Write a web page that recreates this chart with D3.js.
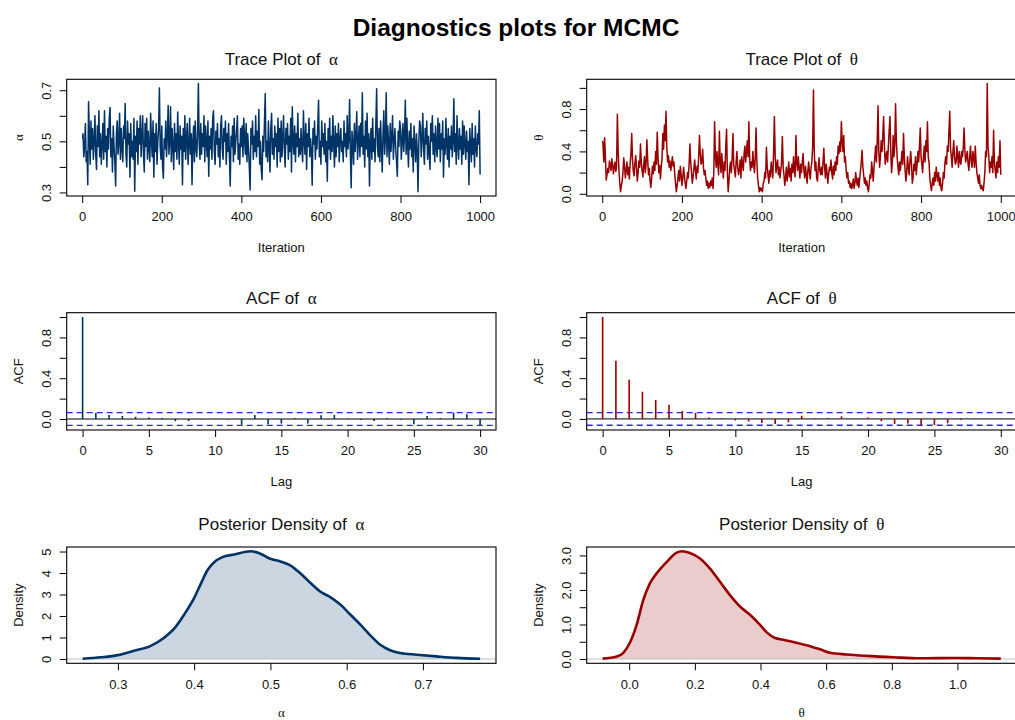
<!DOCTYPE html>
<html>
<head>
<meta charset="utf-8">
<script src="https://cdn.jsdelivr.net/npm/d3@7"></script>
<style>
  body { margin: 0; background: #fff; }
  svg { display: block; }
</style>
</head>
<body>
<svg id="chart" width="1015" height="720"></svg>
<script>
// ---- data ----
// trace samples, one every 2 iterations (0..1000), one row = 50 iterations
const alphaTrace = [
  0.51, 0.53, 0.44, 0.48, 0.57, 0.42, 0.46, 0.33, 0.655, 0.52, 0.41, 0.58, 0.47, 0.55, 0.43, 0.50, 0.60, 0.45, 0.39, 0.56, 0.48, 0.62, 0.44, 0.53, 0.41,
  0.49, 0.57, 0.43, 0.62, 0.46, 0.52, 0.40, 0.55, 0.47, 0.59, 0.633, 0.44, 0.51, 0.38, 0.56, 0.48, 0.42, 0.325, 0.53, 0.58, 0.45, 0.50, 0.61, 0.43, 0.55,
  0.47, 0.42, 0.56, 0.51, 0.648, 0.45, 0.40, 0.58, 0.49, 0.53, 0.36, 0.57, 0.44, 0.50, 0.43, 0.59, 0.305, 0.52, 0.46, 0.58, 0.41, 0.55, 0.49, 0.60, 0.44,
  0.52, 0.60, 0.45, 0.38, 0.57, 0.48, 0.59, 0.43, 0.54, 0.47, 0.42, 0.61, 0.50, 0.44, 0.58, 0.36, 0.53, 0.46, 0.57, 0.41, 0.50, 0.55, 0.709, 0.48, 0.43,
  0.56, 0.40, 0.356, 0.51, 0.47, 0.58, 0.44, 0.52, 0.64, 0.45, 0.50, 0.635, 0.42, 0.55, 0.48, 0.39, 0.57, 0.46, 0.53, 0.43, 0.615, 0.49, 0.41, 0.56, 0.47,
  0.52, 0.33, 0.55, 0.46, 0.60, 0.43, 0.51, 0.57, 0.41, 0.48, 0.59, 0.45, 0.53, 0.33, 0.50, 0.56, 0.42, 0.58, 0.47, 0.44, 0.54, 0.726, 0.49, 0.43, 0.57,
  0.45, 0.53, 0.48, 0.60, 0.42, 0.56, 0.50, 0.44, 0.58, 0.363, 0.52, 0.47, 0.55, 0.43, 0.59, 0.62, 0.46, 0.41, 0.54, 0.49, 0.57, 0.44, 0.51, 0.40, 0.56,
  0.60, 0.47, 0.43, 0.55, 0.50, 0.58, 0.41, 0.53, 0.46, 0.57, 0.44, 0.325, 0.52, 0.48, 0.56, 0.42, 0.59, 0.45, 0.50, 0.54, 0.60, 0.43, 0.49, 0.41, 0.55,
  0.48, 0.56, 0.44, 0.59, 0.51, 0.45, 0.57, 0.42, 0.53, 0.47, 0.40, 0.31, 0.55, 0.49, 0.58, 0.43, 0.52, 0.46, 0.60, 0.44, 0.54, 0.48, 0.625, 0.41, 0.50,
  0.39, 0.35, 0.52, 0.46, 0.57, 0.687, 0.44, 0.50, 0.42, 0.58, 0.47, 0.38, 0.55, 0.61, 0.45, 0.51, 0.43, 0.56, 0.48, 0.53, 0.40, 0.59, 0.46, 0.55, 0.42,
  0.58, 0.44, 0.51, 0.60, 0.47, 0.40, 0.55, 0.49, 0.57, 0.43, 0.52, 0.46, 0.59, 0.38, 0.635, 0.50, 0.45, 0.56, 0.42, 0.53, 0.48, 0.61, 0.44, 0.51, 0.45,
  0.55, 0.47, 0.42, 0.62, 0.50, 0.45, 0.57, 0.39, 0.53, 0.48, 0.59, 0.44, 0.51, 0.46, 0.328, 0.55, 0.49, 0.58, 0.43, 0.52, 0.47, 0.56, 0.661, 0.44, 0.50,
  0.41, 0.58, 0.48, 0.53, 0.45, 0.57, 0.42, 0.50, 0.344, 0.55, 0.47, 0.59, 0.43, 0.52, 0.46, 0.60, 0.49, 0.40, 0.56, 0.44, 0.53, 0.48, 0.57, 0.42, 0.51,
  0.55, 0.46, 0.50, 0.42, 0.58, 0.48, 0.53, 0.44, 0.60, 0.47, 0.51, 0.664, 0.45, 0.318, 0.54, 0.49, 0.41, 0.57, 0.46, 0.52, 0.616, 0.43, 0.50, 0.56, 0.44,
  0.57, 0.48, 0.69, 0.45, 0.52, 0.40, 0.58, 0.47, 0.61, 0.44, 0.53, 0.325, 0.50, 0.55, 0.43, 0.59, 0.46, 0.51, 0.42, 0.57, 0.706, 0.48, 0.44, 0.55, 0.42,
  0.58, 0.47, 0.38, 0.53, 0.62, 0.45, 0.51, 0.69, 0.44, 0.56, 0.49, 0.41, 0.57, 0.46, 0.52, 0.60, 0.43, 0.50, 0.55, 0.47, 0.42, 0.363, 0.54, 0.48, 0.58,
  0.55, 0.43, 0.50, 0.57, 0.46, 0.52, 0.661, 0.45, 0.59, 0.48, 0.40, 0.54, 0.47, 0.57, 0.44, 0.51, 0.38, 0.56, 0.49, 0.42, 0.53, 0.46, 0.303, 0.50, 0.58,
  0.56, 0.44, 0.51, 0.61, 0.47, 0.41, 0.55, 0.49, 0.58, 0.43, 0.52, 0.46, 0.39, 0.57, 0.50, 0.60, 0.45, 0.53, 0.42, 0.56, 0.48, 0.44, 0.59, 0.47, 0.57,
  0.42, 0.53, 0.47, 0.58, 0.36, 0.51, 0.45, 0.59, 0.49, 0.43, 0.55, 0.40, 0.52, 0.47, 0.56, 0.44, 0.50, 0.667, 0.46, 0.53, 0.41, 0.60, 0.48, 0.43, 0.55,
  0.47, 0.52, 0.41, 0.58, 0.45, 0.56, 0.49, 0.43, 0.54, 0.46, 0.50, 0.33, 0.55, 0.48, 0.42, 0.57, 0.45, 0.51, 0.40, 0.56, 0.47, 0.44, 0.53, 0.49, 0.62,
  0.37
];
const thetaTrace = [
  0.50, 0.46, 0.30, 0.53, 0.35, 0.13, 0.18, 0.24, 0.20, 0.31, 0.27, 0.22, 0.33, 0.28, 0.19, 0.25, 0.30, 0.21, 0.26, 0.75, 0.40, 0.22, 0.10, 0.02, 0.08,
  0.12, 0.20, 0.34, 0.26, 0.15, 0.22, 0.30, 0.18, 0.25, 0.14, 0.28, 0.38, 0.57, 0.32, 0.21, 0.17, 0.29, 0.36, 0.24, 0.12, 0.20, 0.31, 0.25, 0.47, 0.30,
  0.22, 0.16, 0.27, 0.35, 0.20, 0.28, 0.51, 0.33, 0.18, 0.24, 0.12, 0.06, 0.15, 0.26, 0.19, 0.30, 0.22, 0.40, 0.28, 0.58, 0.35, 0.20, 0.27, 0.14, 0.25,
  0.33, 0.57, 0.42, 0.65, 0.50, 0.78, 0.45, 0.30, 0.36, 0.25, 0.31, 0.22, 0.28, 0.35, 0.26, 0.30, 0.18, 0.10, 0.02, 0.08, 0.15, 0.22, 0.12, 0.26, 0.18,
  0.08, 0.14, 0.25, 0.18, 0.10, 0.05, 0.12, 0.20, 0.15, 0.28, 0.47, 0.30, 0.20, 0.10, 0.16, 0.24, 0.32, 0.22, 0.14, 0.26, 0.20, 0.35, 0.55, 0.38, 0.28,
  0.30, 0.42, 0.25, 0.18, 0.22, 0.14, 0.08, 0.12, 0.05, 0.10, 0.06, 0.12, 0.08, 0.15, 0.05, 0.20, 0.68, 0.35, 0.25, 0.40, 0.28, 0.18, 0.59, 0.30, 0.20,
  0.38, 0.25, 0.15, 0.30, 0.22, 0.45, 0.61, 0.20, 0.02, 0.12, 0.25, 0.30, 0.20, 0.35, 0.57, 0.28, 0.22, 0.16, 0.30, 0.40, 0.25, 0.18, 0.22, 0.32, 0.15,
  0.35, 0.28, 0.22, 0.38, 0.45, 0.30, 0.40, 0.50, 0.35, 0.68, 0.32, 0.22, 0.30, 0.25, 0.40, 0.28, 0.20, 0.35, 0.62, 0.30, 0.15, 0.08, 0.02, 0.06, 0.03,
  0.05, 0.02, 0.10, 0.12, 0.20, 0.15, 0.44, 0.25, 0.18, 0.10, 0.22, 0.16, 0.30, 0.22, 0.15, 0.40, 0.73, 0.35, 0.20, 0.28, 0.32, 0.18, 0.25, 0.15, 0.22,
  0.30, 0.54, 0.25, 0.18, 0.08, 0.15, 0.25, 0.12, 0.20, 0.30, 0.16, 0.24, 0.12, 0.28, 0.20, 0.35, 0.22, 0.16, 0.55, 0.30, 0.22, 0.35, 0.25, 0.15, 0.28,
  0.20, 0.30, 0.38, 0.22, 0.15, 0.26, 0.18, 0.10, 0.22, 0.30, 0.20, 0.14, 0.25, 0.30, 0.45, 0.98, 0.40, 0.22, 0.30, 0.15, 0.12, 0.25, 0.34, 0.22, 0.18,
  0.25, 0.18, 0.30, 0.43, 0.25, 0.15, 0.28, 0.20, 0.10, 0.18, 0.25, 0.22, 0.32, 0.20, 0.14, 0.26, 0.18, 0.30, 0.22, 0.35, 0.28, 0.45, 0.38, 0.49, 0.40,
  0.68, 0.50, 0.40, 0.55, 0.30, 0.35, 0.22, 0.15, 0.20, 0.10, 0.12, 0.06, 0.10, 0.05, 0.08, 0.14, 0.05, 0.10, 0.20, 0.12, 0.08, 0.15, 0.06, 0.14, 0.22,
  0.30, 0.41, 0.25, 0.18, 0.10, 0.15, 0.08, 0.12, 0.05, 0.02, 0.10, 0.18, 0.15, 0.30, 0.22, 0.12, 0.25, 0.35, 0.45, 0.30, 0.50, 0.83, 0.40, 0.25, 0.35,
  0.50, 0.40, 0.55, 0.73, 0.45, 0.28, 0.35, 0.40, 0.30, 0.45, 0.60, 0.73, 0.40, 0.20, 0.30, 0.55, 0.35, 0.45, 0.85, 0.50, 0.35, 0.25, 0.18, 0.30, 0.22,
  0.30, 0.40, 0.28, 0.57, 0.35, 0.22, 0.12, 0.20, 0.35, 0.25, 0.18, 0.30, 0.40, 0.28, 0.10, 0.15, 0.28, 0.22, 0.35, 0.18, 0.28, 0.40, 0.30, 0.45, 0.62,
  0.35, 0.28, 0.20, 0.35, 0.45, 0.30, 0.50, 0.40, 0.68, 0.35, 0.30, 0.15, 0.08, 0.03, 0.10, 0.15, 0.08, 0.20, 0.12, 0.25, 0.18, 0.12, 0.20, 0.08, 0.15,
  0.05, 0.03, 0.10, 0.20, 0.15, 0.30, 0.35, 0.28, 0.45, 0.40, 0.60, 0.78, 0.42, 0.35, 0.25, 0.40, 0.50, 0.35, 0.28, 0.30, 0.45, 0.35, 0.25, 0.40, 0.30,
  0.28, 0.40, 0.35, 0.45, 0.62, 0.40, 0.30, 0.35, 0.40, 0.28, 0.22, 0.35, 0.45, 0.30, 0.25, 0.40, 0.35, 0.25, 0.45, 0.30, 0.20, 0.15, 0.10, 0.18, 0.08,
  0.05, 0.08, 0.04, 0.03, 0.10, 0.20, 0.40, 0.35, 1.04, 0.45, 0.35, 0.20, 0.30, 0.25, 0.35, 0.20, 0.60, 0.30, 0.22, 0.15, 0.30, 0.20, 0.35, 0.25, 0.50,
  0.18
];
const traceIter = alphaTrace.map((d, i) => Math.max(1, i * 2));

const acfLags = d3.range(0, 31);
const acfAlpha = [1, 0.06, 0.04, 0.03, 0.023, 0.016, 0.01, -0.023, -0.02, -0.005, 0.003,
  -0.005, -0.056, 0.04, -0.05, -0.043, 0.01, -0.043, 0.036, 0.04, 0.005,
  -0.01, -0.02, 0.01, -0.008, -0.052, 0.03, 0.01, 0.062, 0.046, -0.065];
const acfTheta = [1, 0.57, 0.384, 0.266, 0.187, 0.138, 0.079, 0.059, 0.013, 0.007, -0.016,
  -0.026, -0.04, -0.049, -0.033, 0.03, 0.005, 0.008, 0.026, 0.0, 0.013,
  -0.023, -0.049, -0.046, -0.066, -0.059, -0.043, -0.01, 0.005, 0.003, 0.003];
const ciBound = 0.062;

const densAlphaX = [0.2537, 0.278, 0.2996, 0.321, 0.343, 0.3606, 0.3737, 0.3868, 0.3999, 0.409,
  0.4174, 0.4262, 0.437, 0.4525, 0.474, 0.487, 0.50, 0.513, 0.526, 0.5395, 0.553, 0.5657,
  0.579, 0.592, 0.605, 0.618, 0.631, 0.644, 0.657, 0.670, 0.692, 0.718, 0.744, 0.775];
const densAlphaY = [0.01, 0.08, 0.18, 0.38, 0.61, 0.99, 1.41, 2.06, 2.83, 3.52,
  4.13, 4.5, 4.74, 4.86, 5.01, 4.9, 4.66, 4.54, 4.36, 3.98, 3.52, 3.13,
  2.87, 2.52, 2.06, 1.6, 1.1, 0.66, 0.41, 0.28, 0.2, 0.12, 0.05, 0.01];
const densThetaX = [-0.081, -0.038, -0.018, 0.002, 0.0226, 0.043, 0.063, 0.0835, 0.114, 0.1445,
  0.16, 0.185, 0.2156, 0.246, 0.2765, 0.307, 0.3375, 0.368, 0.3985, 0.419, 0.444, 0.4695,
  0.5, 0.551, 0.5815, 0.612, 0.663, 0.724, 0.805, 0.886, 0.988, 1.059, 1.132];
const densThetaY = [0.01, 0.07, 0.18, 0.47, 0.99, 1.71, 2.19, 2.48, 2.81, 3.08,
  3.12, 3.07, 2.91, 2.62, 2.24, 1.85, 1.52, 1.28, 0.99, 0.77, 0.61, 0.56,
  0.49, 0.37, 0.28, 0.18, 0.13, 0.09, 0.05, 0.02, 0.03, 0.02, 0.01];

// tick values and which of them carry a label
const traceXTicks = [0, 200, 400, 600, 800, 1000];
const alphaTraceYTicks = [0.3, 0.4, 0.5, 0.6, 0.7];
const alphaTraceYLabels = ["0.3", "", "0.5", "", "0.7"];
const thetaTraceYTicks = [0, 0.2, 0.4, 0.6, 0.8, 1.0];
const thetaTraceYLabels = ["0.0", "", "0.4", "", "0.8", ""];
const acfXTicks = [0, 5, 10, 15, 20, 25, 30];
const acfYTicks = [0, 0.2, 0.4, 0.6, 0.8, 1.0];
const acfYLabels = ["0.0", "", "0.4", "", "0.8", ""];
const densAlphaXTicks = [0.3, 0.4, 0.5, 0.6, 0.7];
const densAlphaYTicks = [0, 1, 2, 3, 4, 5];
const densThetaXTicks = [0, 0.2, 0.4, 0.6, 0.8, 1.0];
const densThetaYTicks = [0, 0.5, 1, 1.5, 2, 2.5, 3];
const densThetaYLabels = ["0.0", "", "1.0", "", "2.0", "", "3.0"];

// ---- drawing ----
const FONT = '"Liberation Sans", Arial, Helvetica, sans-serif';
const GREEK = '"Liberation Serif", "DejaVu Serif", serif';
const navy = "#003366", darkred = "#990000";

const svg = d3.select("#chart");

const cols = [{ left: 66.7, right: 496, off: 0 }, { left: 586.7, right: 1016.7, off: 520 }];
const rows = [
  { top: 79.3, bottom: 196, title: 65 },
  { top: 312.7, bottom: 430, title: 303.5 },
  { top: 547, bottom: 663.3, title: 530 }
];

// R extends the data range by 4% on each side
function rRange(lo, hi) {
  const p = (hi - lo) * 0.04;
  return [lo - p, hi + p];
}

function labelFmt(ticks, labels) {
  return d => labels ? labels[ticks.indexOf(d)] : d3.format(".1f")(d);
}

function panel(c, r, o) {
  const col = cols[c], row = rows[r];
  const x = d3.scaleLinear().domain(o.xDomain).range([col.left, col.right]);
  const y = d3.scaleLinear().domain(o.yDomain).range([row.bottom, row.top]);
  const g = svg.append("g");

  const clipId = `clip-${r}-${c}`;
  g.append("clipPath").attr("id", clipId).append("rect")
    .attr("x", col.left).attr("y", row.top)
    .attr("width", col.right - col.left).attr("height", row.bottom - row.top);
  const plot = g.append("g").attr("clip-path", `url(#${clipId})`);

  const xa = g.append("g")
    .attr("transform", `translate(0,${row.bottom})`)
    .call(d3.axisBottom(x).tickValues(o.xTicks).tickFormat(o.xFormat).tickSize(7).tickPadding(9));
  const ya = g.append("g")
    .attr("transform", `translate(${col.left},0)`)
    .call(d3.axisLeft(y).tickValues(o.yTicks).tickFormat(o.yFormat).tickSize(7));
  ya.selectAll(".tick text")
    .attr("x", 0).attr("dy", 0)
    .attr("text-anchor", "middle")
    .attr("transform", "translate(-15.4,0) rotate(-90)");
  [xa, ya].forEach(a => {
    a.select(".domain").remove();
    a.attr("font-size", 13).attr("font-family", FONT);
    a.selectAll("line").attr("stroke", "#000");
    a.selectAll("text").attr("fill", "#111");
  });

  // panel title
  const cx = (col.left + col.right) / 2;
  const t = g.append("text")
    .attr("x", cx).attr("y", row.title)
    .attr("text-anchor", "middle")
    .attr("font-family", FONT).attr("font-size", 17).attr("fill", "#111")
    .text(o.title + " ");
  t.append("tspan").attr("dx", 4).attr("font-family", GREEK).text(o.sym);

  // axis labels
  g.append("text")
    .attr("x", cx).attr("y", row.bottom + (o.xlabGreek ? 54 : 55.5))
    .attr("text-anchor", "middle")
    .attr("font-family", o.xlabGreek ? GREEK : FONT).attr("font-size", 13).attr("fill", "#111")
    .text(o.xlab);
  g.append("text")
    .attr("transform", `translate(${col.off + 22.5},${(row.top + row.bottom) / 2}) rotate(-90)`)
    .attr("text-anchor", "middle")
    .attr("font-family", o.ylabGreek ? GREEK : FONT).attr("font-size", 13).attr("fill", "#111")
    .text(o.ylab);

  // box (drawn after the marks)
  o.draw(plot, x, y);
  g.append("rect")
    .attr("x", col.left).attr("y", row.top)
    .attr("width", col.right - col.left).attr("height", row.bottom - row.top)
    .attr("fill", "none").attr("stroke", "#000").attr("stroke-width", 1.1);
}

function tracePanel(c, values, color, ticks, labels, sym) {
  panel(c, 0, {
    xDomain: rRange(1, 1000),
    yDomain: rRange(d3.min(values), d3.max(values)),
    xTicks: traceXTicks, xFormat: d3.format("d"),
    yTicks: ticks, yFormat: labelFmt(ticks, labels),
    title: "Trace Plot of ", sym,
    xlab: "Iteration", ylab: sym, ylabGreek: true,
    draw(plot, x, y) {
      plot.append("path")
        .datum(values)
        .attr("fill", "none")
        .attr("stroke", color)
        .attr("stroke-width", 1.5)
        .attr("stroke-linejoin", "round")
        .attr("d", d3.line().x((d, i) => x(traceIter[i])).y(d => y(d)));
    }
  });
}

function acfPanel(c, values, color, sym) {
  panel(c, 1, {
    xDomain: rRange(0, 30),
    yDomain: rRange(Math.min(d3.min(values), -ciBound), 1),
    xTicks: acfXTicks, xFormat: d3.format("d"),
    yTicks: acfYTicks, yFormat: labelFmt(acfYTicks, acfYLabels),
    title: "ACF of ", sym,
    xlab: "Lag", ylab: "ACF",
    draw(plot, x, y) {
      const [x0, x1] = x.range();
      plot.append("line")
        .attr("x1", x0).attr("x2", x1).attr("y1", y(0)).attr("y2", y(0))
        .attr("stroke", "#000").attr("stroke-width", 1);
      plot.selectAll(".ci")
        .data([ciBound, -ciBound])
        .join("line")
        .attr("class", "ci")
        .attr("x1", x0).attr("x2", x1)
        .attr("y1", d => y(d)).attr("y2", d => y(d))
        .attr("stroke", "#2b2bdd").attr("stroke-width", 1.3)
        .attr("stroke-dasharray", "6,4");
      plot.selectAll(".bar")
        .data(values)
        .join("line")
        .attr("class", "bar")
        .attr("x1", (d, i) => x(acfLags[i])).attr("x2", (d, i) => x(acfLags[i]))
        .attr("y1", y(0)).attr("y2", d => y(d))
        .attr("stroke", color).attr("stroke-width", 1.6);
    }
  });
}

function densityPanel(c, xs, ys, color, xTicks, yTicks, yLabels, sym) {
  const pts = xs.map((v, i) => [v, ys[i]]);
  panel(c, 2, {
    xDomain: rRange(d3.min(xs), d3.max(xs)),
    yDomain: rRange(0, d3.max(ys)),
    xTicks, xFormat: d3.format(".1f"),
    yTicks, yFormat: yLabels ? labelFmt(yTicks, yLabels) : d3.format("d"),
    title: "Posterior Density of ", sym,
    xlab: sym, xlabGreek: true, ylab: "Density",
    draw(plot, x, y) {
      const [x0, x1] = x.range();
      plot.append("path")
        .datum(pts)
        .attr("fill", color).attr("fill-opacity", 0.2)
        .attr("d", d3.area().curve(d3.curveMonotoneX).x(d => x(d[0])).y0(y(0)).y1(d => y(d[1])));
      plot.append("line")
        .attr("x1", x0).attr("x2", x1).attr("y1", y(0)).attr("y2", y(0))
        .attr("stroke", "#bebebe").attr("stroke-width", 1);
      plot.append("path")
        .datum(pts)
        .attr("fill", "none").attr("stroke", color).attr("stroke-width", 2.6)
        .attr("d", d3.line().curve(d3.curveMonotoneX).x(d => x(d[0])).y(d => y(d[1])));
    }
  });
}

tracePanel(0, alphaTrace, navy, alphaTraceYTicks, alphaTraceYLabels, "α");
tracePanel(1, thetaTrace, darkred, thetaTraceYTicks, thetaTraceYLabels, "θ");
acfPanel(0, acfAlpha, navy, "α");
acfPanel(1, acfTheta, darkred, "θ");
densityPanel(0, densAlphaX, densAlphaY, navy, densAlphaXTicks, densAlphaYTicks, null, "α");
densityPanel(1, densThetaX, densThetaY, darkred, densThetaXTicks, densThetaYTicks, densThetaYLabels, "θ");

// overall title
svg.append("text")
  .attr("x", 516).attr("y", 36)
  .attr("text-anchor", "middle")
  .attr("font-family", FONT).attr("font-size", 24.5).attr("font-weight", "bold")
  .attr("fill", "#000")
  .text("Diagnostics plots for MCMC");
</script>
</body>
</html>
